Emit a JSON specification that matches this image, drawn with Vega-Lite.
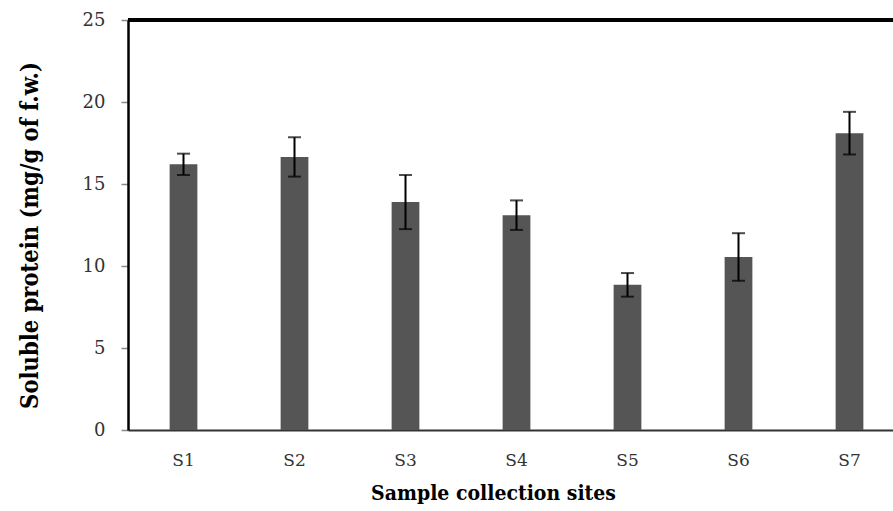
{
  "$schema": "https://vega.github.io/schema/vega-lite/v6.json",
  "autosize": "none",
  "width": 765,
  "height": 410,
  "padding": {"left": 128, "top": 20, "right": 0, "bottom": 81},
  "background": "white",
  "config": {"view": {"stroke": null}},
  "data": {"values": [
    {"site": "S1", "mean": 16.2, "sd": 0.65},
    {"site": "S2", "mean": 16.65, "sd": 1.2},
    {"site": "S3", "mean": 13.9, "sd": 1.65},
    {"site": "S4", "mean": 13.1, "sd": 0.9},
    {"site": "S5", "mean": 8.85, "sd": 0.72},
    {"site": "S6", "mean": 10.55, "sd": 1.45},
    {"site": "S7", "mean": 18.1, "sd": 1.3}
  ]},
  "layer": [
    {
      "mark": {"type": "bar", "color": "#555555"},
      "encoding": {
        "x": {
          "field": "site", "type": "nominal", "sort": null,
          "scale": {"range": [0, 777], "paddingInner": 0.75, "paddingOuter": 0.375},
          "axis": {
            "title": "Sample collection sites",
            "titleFont": "DejaVu Serif Condensed, DejaVu Serif", "titleFontSize": 21, "titleFontWeight": "bold", "titleColor": "black",
            "titleX": 365, "titleY": 63, "titleBaseline": "middle", "titleAlign": "center",
            "labelFont": "DejaVu Serif", "labelFontSize": 17, "labelColor": "#333", "labelAngle": 0,
            "labelPadding": 22, "ticks": false,
            "domainColor": "#333", "domainWidth": 2, "grid": false
          }
        },
        "y": {
          "field": "mean", "type": "quantitative",
          "scale": {"domain": [0, 25], "nice": false},
          "axis": {
            "title": "Soluble protein (mg/g of f.w.)",
            "titleFont": "DejaVu Serif Condensed, DejaVu Serif", "titleFontSize": 23.5, "titleFontWeight": "bold", "titleColor": "black",
            "titleX": -98, "titleY": 215, "titleAngle": -90, "titleAlign": "center", "titleBaseline": "middle",
            "values": [0, 5, 10, 15, 20, 25],
            "labelFont": "DejaVu Serif", "labelFontSize": 18, "labelColor": "#333",
            "labelPadding": 16, "tickSize": 7, "tickColor": "#888", "tickWidth": 1.5,
            "domainColor": "black", "domainWidth": 2.5, "grid": false
          }
        }
      }
    },
    {
      "mark": {"type": "errorbar", "ticks": {"size": 13, "thickness": 2, "color": "black"}, "rule": {"strokeWidth": 2, "color": "black"}},
      "encoding": {
        "x": {"field": "site", "type": "nominal", "sort": null},
        "y": {"field": "mean", "type": "quantitative", "title": "Soluble protein (mg/g of f.w.)"},
        "yError": {"field": "sd"}
      }
    },
    {
      "mark": {"type": "rule", "color": "black", "strokeWidth": 3},
      "encoding": {"y": {"datum": 25}}
    }
  ]
}
